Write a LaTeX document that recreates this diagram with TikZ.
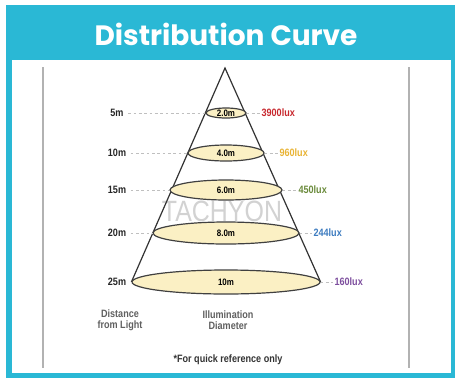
\documentclass[tikz,border=0pt]{standalone}
\usepackage{fontspec}
\setmainfont{Liberation Sans}
\newfontfamily\titlefont{Poppins}
\newfontfamily\labelfont[FakeStretch=0.85]{Liberation Sans}
\usetikzlibrary{positioning, shapes.geometric, backgrounds}
\definecolor{header}{HTML}{2AB8D5}
\definecolor{beam}{HTML}{FBF0C4}
\definecolor{lux_red}{HTML}{C8282E}
\definecolor{lux_orange}{HTML}{E9B435}
\definecolor{lux_green}{HTML}{6B8B3C}
\definecolor{lux_blue}{HTML}{3D7CC0}
\definecolor{lux_purple}{HTML}{7D4E9E}

\begin{document}
\begin{tikzpicture}[
    x=0.75pt, y=-0.75pt,
    font=\labelfont\bfseries\fontsize{8}{8}\selectfont,
    spot/.style={
        ellipse,
        draw=black!75,
        line width=0.9pt,
        fill=beam,
        inner sep=0pt,
        font=\labelfont\bfseries\fontsize{7}{7}\selectfont
    },
    dist/.style={text=black!85},
    lux/.style={anchor=west, inner sep=1pt},
    guide/.style={draw=gray!50, line width=0.5pt, dash pattern=on 2pt off 2pt},
    rail/.style={draw=gray!60, line width=1.2pt},
    caption/.style={align=center, text=gray!75!black},
    watermark/.style={text=gray!35, font=\labelfont\fontsize{22}{22}\selectfont}
]

\useasboundingbox (0,0) rectangle (455,380);
\begin{scope}[on background layer]
    \fill[header] (6,5) rectangle (455,378);
    \fill[white] (12,60) rectangle (451,373);
\end{scope}
\node[text=white, font=\titlefont\bfseries\fontsize{21}{21}\selectfont] (title) at (226,34) {Distribution Curve};

\draw[rail] (43,67) coordinate (rl_top) -- (43,368) coordinate (rl_bot);
\draw[rail] (409,67) coordinate (rr_top) -- (409,368) coordinate (rr_bot);

\coordinate (apex) at (225,68);

\foreach \i/\y/\w/\h/\dx/\diam/\lux/\lx/\col in {
    1/113/40/10/5m/2.0m/3900lux/260/lux_red,
    2/153/76/16/10m/4.0m/960lux/278/lux_orange,
    3/190/112/20/15m/6.0m/450lux/297/lux_green,
    4/233/146/22/20m/8.0m/244lux/312/lux_blue,
    5/282/188/24/25m/10m/160lux/333/lux_purple}{
    \node[spot, minimum width=\w*0.75pt, minimum height=\h*0.75pt] (e\i) at (226,\y) {\diam};
    \node[dist] (d\i) at (117,\y) {\dx};
    \node[lux, text=\col] (l\i) at (\lx,\y) {\lux};
    \draw[guide] (d\i) -- (e\i.west);
    \draw[guide] (e\i.east) -- (l\i);
}

\begin{scope}[on background layer]
    \node[watermark] (mark) at (222,211) {TACHYON};
    \draw[line width=0.9pt, black!80] (e5.west) -- (apex) -- (e5.east);
\end{scope}

\node[caption] (cap_dist) at (120,320) {Distance\\from Light};
\node[caption] (cap_diam) at (228,320) {Illumination\\Diameter};
\node[text=black!80] (note) at (228,360) {*For quick reference only};

\end{tikzpicture}
\end{document}
